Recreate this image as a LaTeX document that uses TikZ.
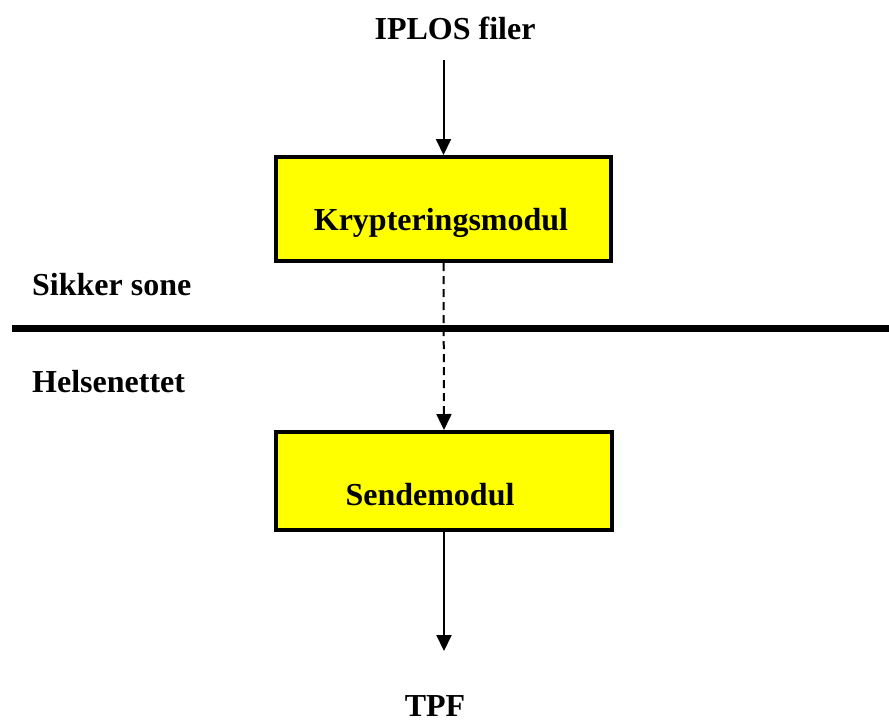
\documentclass[tikz,border=0pt]{standalone}
\usepackage{fontspec}
\setmainfont{Liberation Serif}
\usetikzlibrary{arrows.meta}
\definecolor{boxyellow}{RGB}{255,255,0}
\begin{document}
\begin{tikzpicture}[x=1pt,y=-1pt,
  box/.style={draw=black,line width=4pt,fill=boxyellow,inner sep=0pt},
  lbl/.style={font=\fontsize{32}{38}\selectfont\bfseries,anchor=base,inner sep=0pt},
  flow/.style={line width=2pt,-{Triangle[width=15pt,length=16pt]}},
  zone/.style={line width=7pt}]
\useasboundingbox (0,0) rectangle (889,724);
\clip (0,0) rectangle (889,724);
% boxes
\node[box,minimum width=335pt,minimum height=104pt] (krypt) at (443.5,209) {};
\node[box,minimum width=336pt,minimum height=98pt] (sende) at (444,481) {};
% labels
\node[lbl] (iplos) at (455,39) {IPLOS filer};
\node[lbl] (kryptlbl) at (441,230) {Krypteringsmodul};
\node[lbl] (sendelbl) at (430,505) {Sendemodul};
\node[lbl] (tpf) at (435,716) {TPF};
\node[lbl,anchor=base west] (sikker) at (32,295) {Sikker sone};
\node[lbl,anchor=base west] (helse) at (32,392) {Helsenettet};
% zone boundary
\coordinate (zl) at (12,328);
\coordinate (zr) at (889,328);
\draw[zone] (zl) -- (zr);
% connectors
\coordinate (instart) at (443.5,60);
\coordinate (outend) at (444,651);
\draw[flow] (instart) -- (krypt.north);
\draw[flow,dash pattern=on 8pt off 5pt] (krypt.south) -- (sende.north);
\draw[flow] (sende.south) -- (outend);
\end{tikzpicture}
\end{document}
